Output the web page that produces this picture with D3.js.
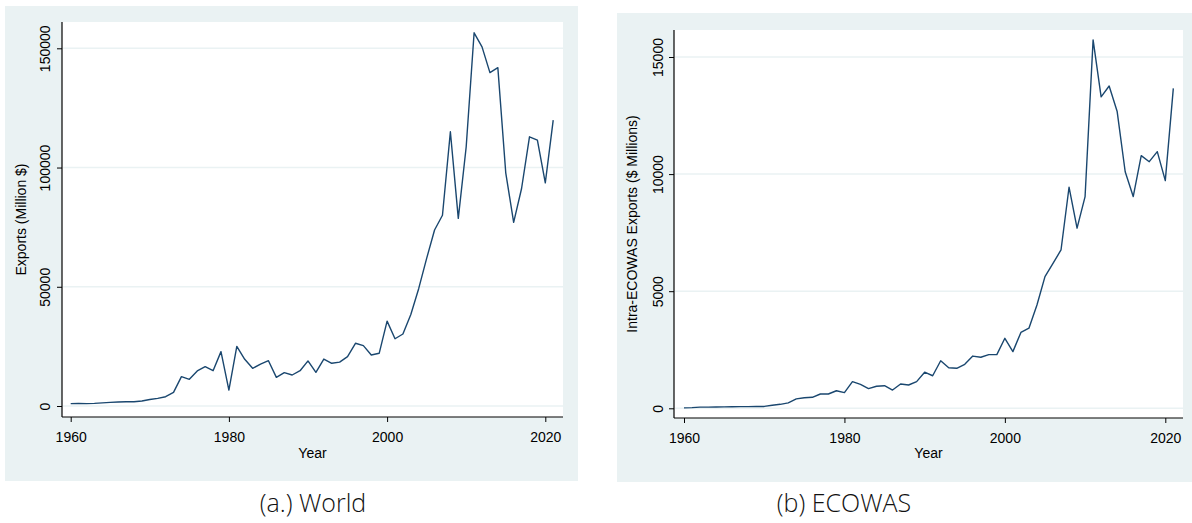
<!DOCTYPE html>
<html>
<head>
<meta charset="utf-8">
<script src="https://cdn.jsdelivr.net/npm/d3@7"></script>
<style>
  body { margin: 0; background: #fff; }
  svg { display: block; }
</style>
</head>
<body>
<svg width="1192" height="523"></svg>
<script>
// years 1960..2021
var years = [1960,1961,1962,1963,1964,1965,1966,1967,1968,1969,
             1970,1971,1972,1973,1974,1975,1976,1977,1978,1979,
             1980,1981,1982,1983,1984,1985,1986,1987,1988,1989,
             1990,1991,1992,1993,1994,1995,1996,1997,1998,1999,
             2000,2001,2002,2003,2004,2005,2006,2007,2008,2009,
             2010,2011,2012,2013,2014,2015,2016,2017,2018,2019,
             2020,2021];

// (a.) World exports, million $
var worldExports = [1000,1050,1000,1100,1300,1500,1700,1800,1800,2100,
                    2700,3200,3900,5700,12300,11200,14700,16500,14800,22800,
                    6700,25000,19600,15800,17600,19000,12000,14000,13000,14800,
                    18900,14100,19700,17900,18400,20700,26300,25300,21400,22100,
                    35600,28200,30200,38400,49300,61900,73800,80000,115000,78700,
                    108700,156500,150600,139800,141900,97800,77000,91200,112900,111500,
                    93600,119900];

// (b) Intra-ECOWAS exports, $ millions
var ecowasExports = [20,30,50,50,55,60,65,70,70,75,
                     80,130,170,230,400,450,470,610,610,750,
                     670,1140,1020,840,940,965,780,1040,995,1140,
                     1540,1390,2030,1730,1710,1880,2230,2180,2290,2290,
                     2990,2420,3240,3420,4410,5620,6190,6760,9440,7690,
                     9040,15730,13300,13760,12670,10100,9040,10790,10530,10960,
                     9720,13660];

var xTicks = [1960, 1980, 2000, 2020];
var worldTicks = [0, 50000, 100000, 150000];
var ecowasTicks = [0, 5000, 10000, 15000];

var svg = d3.select("svg");
var lineColor = "#1a476f",
    bgColor = "#eaf2f3",
    gridColor = "#eaf2f3",
    tickFont = "'Liberation Sans', Arial, sans-serif";

function drawPanel(p) {
  var g = svg.append("g");

  // outer graph region
  g.append("rect")
      .attr("x", p.bg[0]).attr("y", p.bg[1])
      .attr("width", p.bg[2] - p.bg[0]).attr("height", p.bg[3] - p.bg[1])
      .attr("fill", bgColor);

  // white plot region
  g.append("rect")
      .attr("x", p.plot[0]).attr("y", p.plot[1])
      .attr("width", p.plot[2] - p.plot[0]).attr("height", p.plot[3] - p.plot[1])
      .attr("fill", "#fff");

  var x = d3.scaleLinear().domain([1960, 2020]).range(p.xr);
  var y = d3.scaleLinear().domain([0, p.ymax]).range(p.yr);

  // gridlines
  g.append("g").selectAll("line")
    .data(p.yTicks)
    .enter().append("line")
      .attr("x1", p.plot[0] + 1)
      .attr("x2", p.plot[2])
      .attr("y1", d => y(d))
      .attr("y2", d => y(d))
      .attr("stroke", gridColor)
      .attr("stroke-width", 1.5);

  // series
  var line = d3.line()
      .x((d, i) => x(years[i]))
      .y(d => y(d));

  g.append("path")
      .datum(p.values)
      .attr("d", line)
      .attr("fill", "none")
      .attr("stroke", lineColor)
      .attr("stroke-width", 1.4)
      .attr("stroke-linejoin", "round");

  // y axis
  var yAxis = g.append("g")
      .attr("transform", "translate(" + p.plot[0] + ",0)")
      .call(d3.axisLeft(y).tickValues(p.yTicks).tickSize(5).tickFormat(d3.format("d")));
  yAxis.select(".domain").remove();
  yAxis.selectAll("text")
      .attr("transform", "rotate(-90)")
      .attr("x", 0)
      .attr("y", -p.yLabOff)
      .attr("dy", "0.35em")
      .style("text-anchor", "middle");

  // x axis
  var xAxis = g.append("g")
      .attr("transform", "translate(0," + p.plot[3] + ")")
      .call(d3.axisBottom(x).tickValues(xTicks).tickSize(5).tickPadding(10).tickFormat(d3.format("d")));
  xAxis.select(".domain").remove();

  g.selectAll(".tick text")
      .attr("fill", "#000")
      .style("font-family", tickFont)
      .style("font-size", "14px");
  g.selectAll(".tick line").attr("stroke", "#000");

  // axis lines
  g.append("line")
      .attr("x1", p.plot[0]).attr("x2", p.plot[0])
      .attr("y1", p.plot[1]).attr("y2", p.plot[3])
      .attr("stroke", "#000").attr("stroke-width", 1.2);
  g.append("line")
      .attr("x1", p.plot[0]).attr("x2", p.plot[2])
      .attr("y1", p.plot[3]).attr("y2", p.plot[3])
      .attr("stroke", "#000").attr("stroke-width", 1.2);

  // axis titles
  g.append("text")
      .attr("transform", "translate(" + p.yTitleX + "," + ((p.plot[1] + p.plot[3]) / 2) + ") rotate(-90)")
      .attr("text-anchor", "middle")
      .attr("dy", "0.35em")
      .style("font-family", tickFont)
      .style("font-size", "14px")
      .text(p.yTitle);

  g.append("text")
      .attr("x", (p.plot[0] + p.plot[2]) / 2)
      .attr("y", p.xTitleY)
      .attr("text-anchor", "middle")
      .style("font-family", tickFont)
      .style("font-size", "14px")
      .text("Year");

  // caption under the panel
  svg.append("text")
      .attr("x", p.capX)
      .attr("y", 512)
      .attr("text-anchor", "middle")
      .attr("fill", "#111")
      .style("font-family", "'Open Sans', sans-serif")
      .style("font-weight", 300)
      .style("font-size", "25px")
      .text(p.caption);
}

drawPanel({
  bg: [5, 6, 578, 481],
  plot: [62, 22, 563, 417],
  xr: [70.7, 545.3],
  yr: [406, 48.3],
  ymax: 150000,
  yTicks: worldTicks,
  values: worldExports,
  yLabOff: 17,
  yTitle: "Exports (Million $)",
  yTitleX: 21,
  xTitleY: 458,
  caption: "(a.) World",
  capX: 313
});

drawPanel({
  bg: [617, 13, 1192, 482],
  plot: [674, 30, 1183, 418],
  xr: [684, 1165.3],
  yr: [408.3, 57],
  ymax: 15000,
  yTicks: ecowasTicks,
  values: ecowasExports,
  yLabOff: 16,
  yTitle: "Intra-ECOWAS Exports ($ Millions)",
  yTitleX: 632,
  xTitleY: 458,
  caption: "(b) ECOWAS",
  capX: 844
});
</script>
</body>
</html>
